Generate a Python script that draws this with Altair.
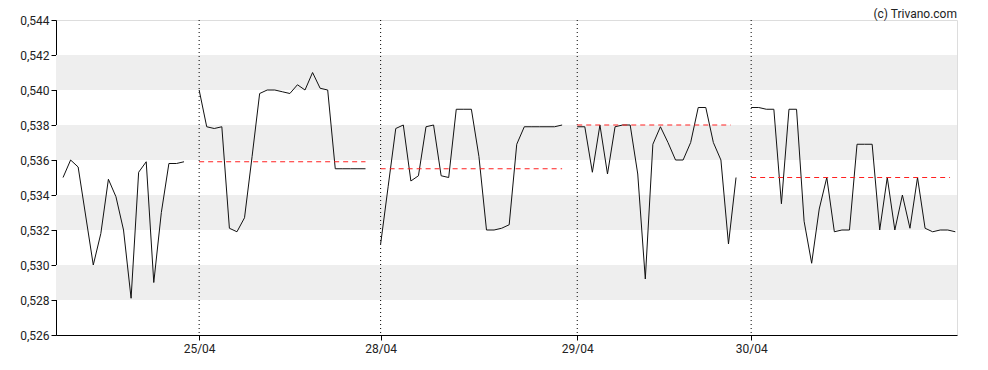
import altair as alt
import pandas as pd

# ---- data ----
day_names = ["24/04", "25/04", "28/04", "29/04", "30/04"]
day_start = [0, 18, 42, 68, 91]          # index of the first quote of each day

day1 = [0.5350, 0.5360, 0.5356, 0.5328, 0.5300, 0.5318, 0.5349, 0.5339, 0.5320,
        0.5281, 0.5353, 0.5359, 0.5290, 0.5330, 0.5358, 0.5358, 0.5359]
day2 = [0.5400, 0.5379, 0.5378, 0.5379, 0.5321, 0.5319, 0.5327, 0.5362, 0.5398,
        0.5400, 0.5400, 0.5399, 0.5398, 0.5403, 0.5400, 0.5410, 0.5401, 0.5400,
        0.5355, 0.5355, 0.5355, 0.5355, 0.5355]
day3 = [0.5312, 0.5345, 0.5378, 0.5380, 0.5348, 0.5351, 0.5379, 0.5380, 0.5351,
        0.5350, 0.5389, 0.5389, 0.5389, 0.5362, 0.5320, 0.5320, 0.5321, 0.5323,
        0.5369, 0.5379, 0.5379, 0.5379, 0.5379, 0.5379, 0.5380]
day4 = [0.5379, 0.5379, 0.5353, 0.5380, 0.5352, 0.5379, 0.5380, 0.5380, 0.5352,
        0.5292, 0.5369, 0.5379, 0.5370, 0.5360, 0.5360, 0.5370, 0.5390, 0.5390,
        0.5370, 0.5360, 0.5312, 0.5350]
day5 = [0.5390, 0.5390, 0.5389, 0.5389, 0.5335, 0.5389, 0.5389, 0.5325, 0.5301,
        0.5332, 0.5350, 0.5319, 0.5320, 0.5320, 0.5369, 0.5369, 0.5369, 0.5320,
        0.5350, 0.5320, 0.5340, 0.5321, 0.5350, 0.5321, 0.5319, 0.5320, 0.5320,
        0.5319]
days = [day1, day2, day3, day4, day5]

# reference (red dashed) levels per day
lvl_day = ["25/04", "28/04", "29/04", "30/04"]
lvl_value = [0.5359, 0.5355, 0.5380, 0.5350]
lvl_start = [18, 42, 68, 91]
lvl_end = [40, 66, 88.3, 117.3]

# grey bands
band_lo = [0.528, 0.532, 0.536, 0.540]
band_hi = [0.530, 0.534, 0.538, 0.542]

sep_idx = day_start[1:]
sep_lab = day_names[1:]

# ---- tables ----
rows = []
for name, start, vals in zip(day_names, day_start, days):
    for k, v in enumerate(vals):
        rows.append({"day": name, "idx": start + k, "price": v})
df = pd.DataFrame(rows)

lvl_rows = []
for d, v, s, e in zip(lvl_day, lvl_value, lvl_start, lvl_end):
    lvl_rows.append({"day": d, "idx": s, "price": v})
    lvl_rows.append({"day": d, "idx": e, "price": v})
lvl_df = pd.DataFrame(lvl_rows)

band_df = pd.DataFrame({"lo": band_lo, "hi": band_hi})
sep_df = pd.DataFrame({"idx": sep_idx, "lab": sep_lab})

FONT = "Roboto"
label_expr = " : ".join(
    f"datum.value == {i} ? '{l}'" for i, l in zip(sep_idx, sep_lab)
) + " : ''"

xscale = alt.Scale(domain=[-0.93, 118.22], nice=False, zero=False)
yscale = alt.Scale(domain=[0.526, 0.544], nice=False, zero=False)

xaxis = alt.Axis(values=sep_idx, labelExpr=label_expr, grid=False, title=None,
                 tickSize=5, labelPadding=3, domainColor="black", tickColor="black",
                 labelColor="#222222", labelFont=FONT, labelFontSize=12)
yaxis = alt.Axis(values=[0.526 + 0.002 * i for i in range(10)],
                 labelExpr="replace(format(datum.value, '.3f'), '.', ',')",
                 grid=False, title=None, tickSize=5, labelPadding=2,
                 domainColor="black", tickColor="black", labelColor="#222222",
                 labelFont=FONT, labelFontSize=12)

bands = alt.Chart(band_df).mark_rect(color="#eeeeee").encode(
    y=alt.Y("lo:Q", scale=yscale, axis=yaxis),
    y2="hi:Q",
)

seps = alt.Chart(sep_df).mark_rule(color="black", strokeDash=[1, 3], strokeWidth=1).encode(
    x=alt.X("idx:Q", scale=xscale, axis=xaxis),
)

line = alt.Chart(df).mark_line(color="#111111", strokeWidth=1).encode(
    x=alt.X("idx:Q", scale=xscale, axis=xaxis),
    y=alt.Y("price:Q", scale=yscale, axis=yaxis),
    detail="day:N",
)

levels = alt.Chart(lvl_df).mark_line(color="#ff2020", strokeWidth=1, strokeDash=[5, 4]).encode(
    x=alt.X("idx:Q", scale=xscale, axis=xaxis),
    y=alt.Y("price:Q", scale=yscale, axis=yaxis),
    detail="day:N",
)

credit = alt.Chart(pd.DataFrame({"t": ["(c) Trivano.com"]})).mark_text(
    align="right", baseline="middle", font=FONT, fontSize=12, color="#222222"
).encode(x=alt.value(901), y=alt.value(-6), text="t:N")

chart = alt.layer(bands, seps, line, levels, credit).properties(
    width=901, height=315,
    autosize=alt.AutoSizeParams(type="none"),
    padding={"left": 48, "top": 12, "right": 20, "bottom": 20},
).configure_view(stroke="black", strokeWidth=1).configure(background="white")

chart.save("out.html", embed_options={"renderer": "svg", "actions": False})
